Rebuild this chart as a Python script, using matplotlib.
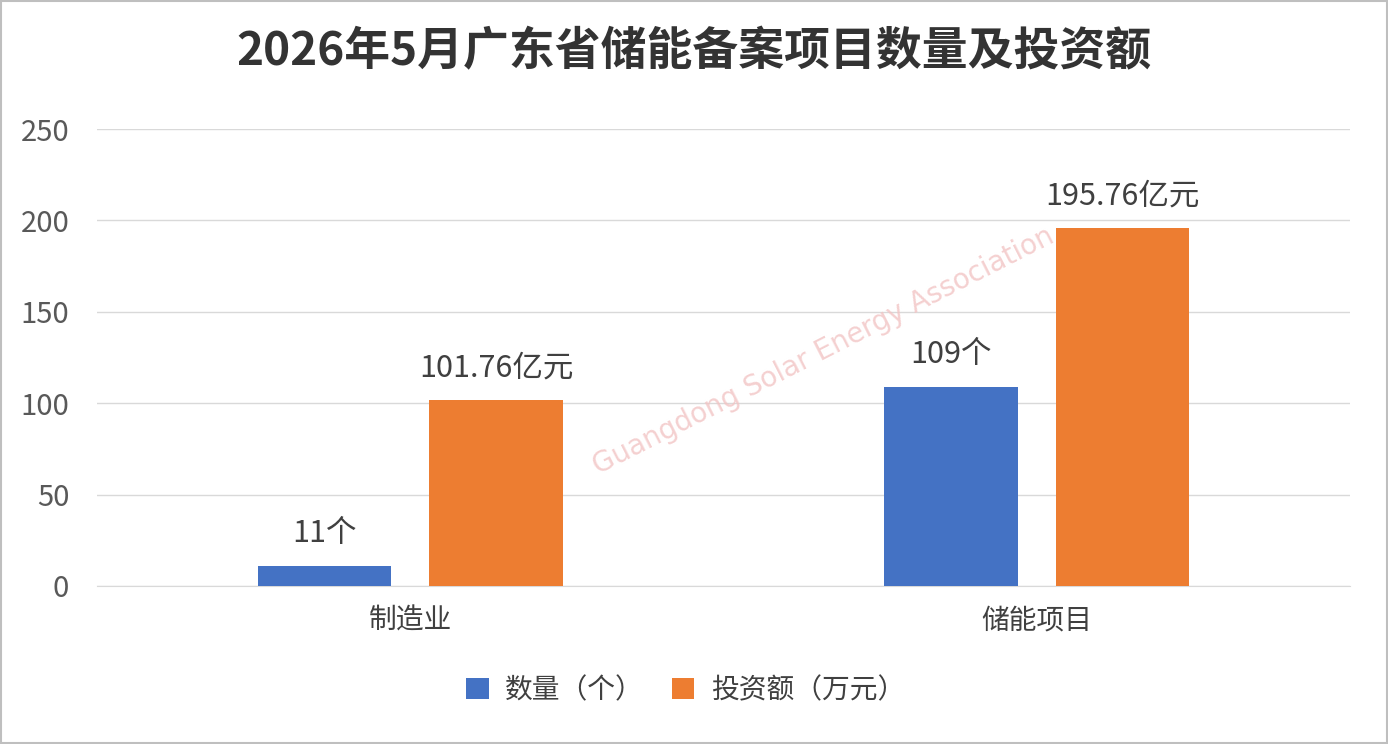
import matplotlib
matplotlib.use("Agg")
import matplotlib.pyplot as plt
import numpy as np
from matplotlib.patches import Rectangle

plt.rcParams['font.family'] = ['Noto Sans CJK SC', 'DejaVu Sans']

# data
categories = ["制造业", "储能项目"]
series_names = ["数量（个）", "投资额（万元）"]
counts = [11, 109]
invest = [101.76, 195.76]
count_labels = ["11个", "109个"]
invest_labels = ["101.76亿元", "195.76亿元"]
yticks = [0, 50, 100, 150, 200, 250]

blue = "#4472C4"
orange = "#ED7D31"

fig = plt.figure(figsize=(13.88, 7.44), dpi=100)
ax = fig.add_axes([0.0699, 0.2124, 0.9027, 0.6142])

x = np.arange(len(categories))
w = 0.213
off = 0.137
b1 = ax.bar(x - off, counts, w, color=blue, label=series_names[0], zorder=3)
b2 = ax.bar(x + off, invest, w, color=orange, label=series_names[1], zorder=3)

for rect, lab in zip(b1, count_labels):
    ax.annotate(lab, (rect.get_x() + rect.get_width() / 2, rect.get_height()),
                xytext=(0, 12), textcoords="offset points", ha="center", va="bottom",
                fontsize=22, color="#404040", zorder=4)
for rect, lab in zip(b2, invest_labels):
    ax.annotate(lab, (rect.get_x() + rect.get_width() / 2, rect.get_height()),
                xytext=(0, 12), textcoords="offset points", ha="center", va="bottom",
                fontsize=22, color="#404040", zorder=4)

ax.set_xlim(-0.5, 1.5)
ax.set_ylim(0, 250)
ax.set_yticks(yticks)
ax.set_xticks(x)
ax.set_xticklabels(categories)
ax.tick_params(axis="y", length=0, labelsize=21, labelcolor="#595959", pad=20)
ax.tick_params(axis="x", length=0, labelsize=20, labelcolor="#404040", pad=14)
ax.grid(axis="y", color="#d9d9d9", linewidth=1, zorder=0)
for s in ["top", "right", "left"]:
    ax.spines[s].set_visible(False)
ax.spines["bottom"].set_color("#d9d9d9")

# watermark text
ax.text(0.58, 0.515, "Guangdong Solar Energy Association", transform=ax.transAxes,
        rotation=27, fontsize=20, color="#f2c4c4", alpha=0.8, ha="center", va="center",
        family="DejaVu Sans", zorder=5)

fig.text(0.5, 0.93, "2026年5月广东省储能备案项目数量及投资额", ha="center", va="center",
         fontsize=33, fontweight="bold", color="#333333")

fig.legend(loc="center", bbox_to_anchor=(0.494, 0.072), ncol=2, frameon=False,
           fontsize=20, handlelength=0.8, handleheight=0.8, handletextpad=0.6,
           columnspacing=1.0, labelcolor="#404040")

fig.patches.append(Rectangle((0.001, 0.002), 0.998, 0.996, transform=fig.transFigure,
                             fill=False, edgecolor="#bfbfbf", linewidth=1.5))

fig.savefig("out.png", dpi=100, facecolor="white")
